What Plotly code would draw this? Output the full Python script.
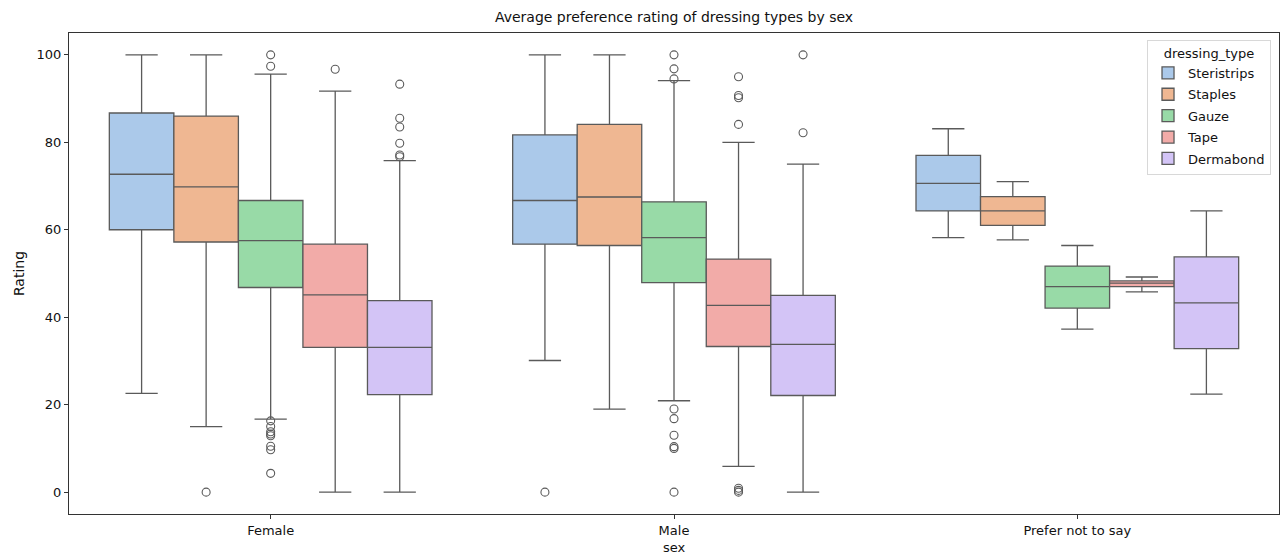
import plotly.graph_objects as go

# ---- data ----
sexes = ["Female", "Male", "Prefer not to say"]
dressing_types = ["Steristrips", "Staples", "Gauze", "Tape", "Dermabond"]
colors = ["#abc9ea", "#efb792", "#98daa7", "#f2aba8", "#d3c4f6"]

# per dressing type, values for [Female, Male, Prefer not to say]
lower = {
    "Steristrips": [22.6, 30.1, 58.2],
    "Staples":     [15.0, 19.0, 57.7],
    "Gauze":       [16.7, 20.9, 37.3],
    "Tape":        [0.0, 5.9, 45.8],
    "Dermabond":   [0.0, 0.0, 22.4],
}
q1 = {
    "Steristrips": [60.0, 56.7, 64.3],
    "Staples":     [57.2, 56.4, 61.0],
    "Gauze":       [46.8, 47.9, 42.1],
    "Tape":        [33.1, 33.3, 47.0],
    "Dermabond":   [22.3, 22.1, 32.8],
}
median = {
    "Steristrips": [72.7, 66.7, 70.6],
    "Staples":     [69.8, 67.5, 64.3],
    "Gauze":       [57.5, 58.2, 47.0],
    "Tape":        [45.1, 42.7, 47.8],
    "Dermabond":   [33.1, 33.8, 43.3],
}
q3 = {
    "Steristrips": [86.7, 81.7, 77.0],
    "Staples":     [86.0, 84.1, 67.6],
    "Gauze":       [66.7, 66.4, 51.7],
    "Tape":        [56.7, 53.3, 48.3],
    "Dermabond":   [43.8, 45.0, 53.8],
}
upper = {
    "Steristrips": [100.0, 100.0, 83.1],
    "Staples":     [100.0, 100.0, 71.0],
    "Gauze":       [95.6, 94.1, 56.4],
    "Tape":        [91.7, 80.0, 49.2],
    "Dermabond":   [75.8, 75.0, 64.3],
}
outliers = {
    "Steristrips": [[], [0.0], []],
    "Staples":     [[0.0], [], []],
    "Gauze":       [[100.0, 97.4, 16.3, 15.0, 13.8, 13.3, 12.9, 10.5, 9.7, 4.3],
                    [100.0, 96.8, 94.5, 19.0, 16.8, 13.0, 10.4, 10.0, 0.0], []],
    "Tape":        [[96.7], [95.0, 90.7, 90.2, 84.1, 0.9, 0.4, 0.0], []],
    "Dermabond":   [[93.3, 85.5, 83.5, 79.8, 77.1, 76.7], [100.0, 82.2], []],
}

n = len(dressing_types)
box_w = 0.8 / n
line_col = "#5a5a5a"

fig = go.Figure()
for j, dt in enumerate(dressing_types):
    off = (j - (n - 1) / 2) * box_w
    xs = [i + off for i in range(len(sexes))]
    fig.add_trace(go.Box(
        name=dt, x=xs,
        q1=q1[dt], median=median[dt], q3=q3[dt],
        lowerfence=lower[dt], upperfence=upper[dt],
        width=box_w, whiskerwidth=0.5,
        fillcolor=colors[j],
        line=dict(color=line_col, width=1.3),
        boxpoints=False, legendgroup=dt,
    ))
    ox, oy = [], []
    for i, vals in enumerate(outliers[dt]):
        ox += [xs[i]] * len(vals)
        oy += vals
    fig.add_trace(go.Scatter(
        x=ox, y=oy, mode="markers", showlegend=False, legendgroup=dt,
        marker=dict(symbol="circle-open", size=8, color=line_col, line=dict(width=1.1)),
    ))

font = "DejaVu Sans, Liberation Sans, sans-serif"
fig.update_layout(
    width=1280, height=558,
    margin=dict(l=69, r=1, t=33, b=44, autoexpand=False),
    paper_bgcolor="white", plot_bgcolor="white",
    font=dict(family=font, size=13, color="#111"),
    title=dict(text="Average preference rating of dressing types by sex",
               x=0.5, xanchor="center", xref="paper",
               y=1 - 17 / 558, yref="container", yanchor="middle",
               font=dict(size=14, color="#111")),
    boxmode="overlay",
    legend=dict(
        title=dict(text="dressing_type", side="top center", font=dict(size=13)),
        x=0.9934, xanchor="right", y=0.9854, yanchor="top",
        bgcolor="rgba(255,255,255,0.85)", bordercolor="#d8d8d8", borderwidth=1,
        font=dict(size=13), tracegroupgap=1.5, itemwidth=30,
    ),
)
fig.update_xaxes(
    range=[-0.5, len(sexes) - 0.5], tickmode="array",
    tickvals=list(range(len(sexes))), ticktext=sexes, automargin=False,
    showline=True, linecolor="#333", linewidth=1, mirror=True,
    ticks="outside", ticklen=4, tickcolor="#333", showgrid=False, zeroline=False,
    title=dict(text="sex", standoff=6, font=dict(size=13)),
)
fig.update_yaxes(
    range=[-5, 105], tickmode="array", tickvals=[0, 20, 40, 60, 80, 100],
    automargin=False,
    showline=True, linecolor="#333", linewidth=1, mirror=True,
    ticks="outside", ticklen=4, tickcolor="#333", showgrid=False, zeroline=False,
    title=dict(text="Rating", standoff=8, font=dict(size=14)),
)

fig.write_html("out.html", config={"displayModeBar": False},
               post_script="document.body.style.margin='0';")
